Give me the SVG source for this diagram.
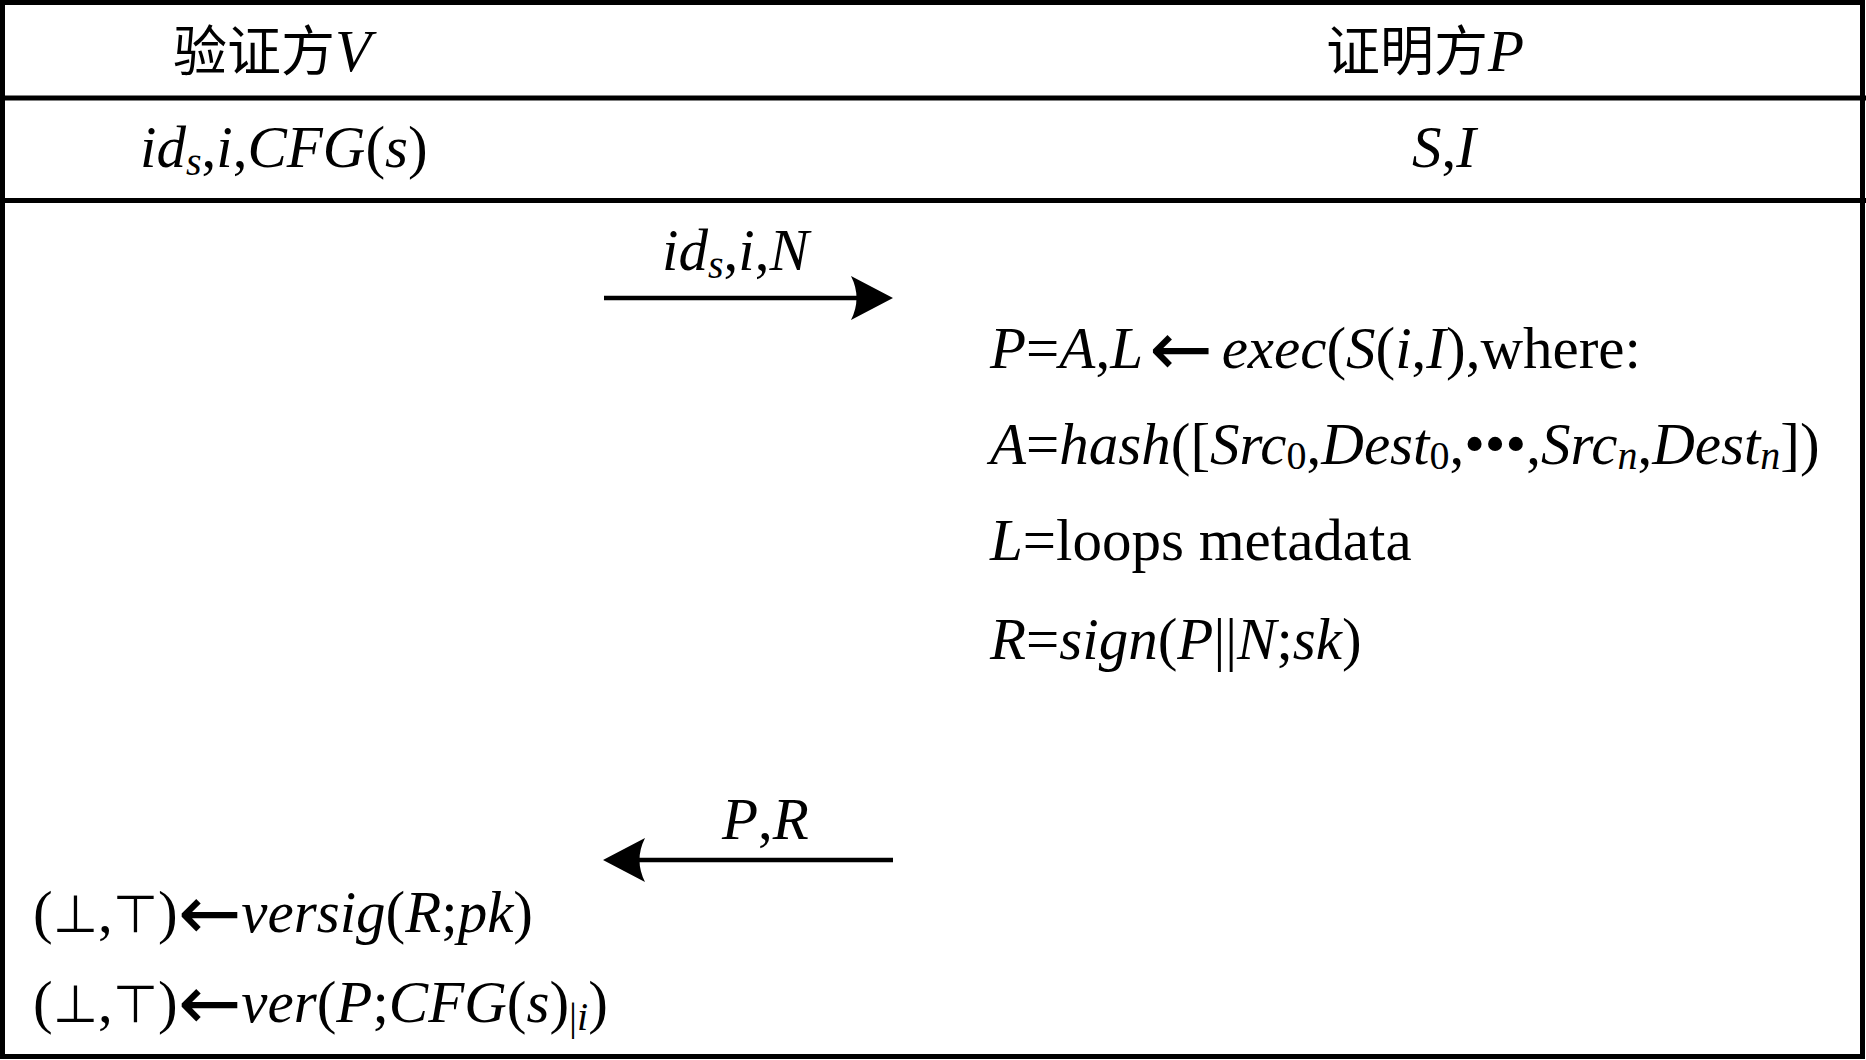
<svg xmlns="http://www.w3.org/2000/svg" width="1866" height="1060" viewBox="0 0 1866 1060">
<style>
text{font-family:"Liberation Serif","Times New Roman","Noto Sans CJK SC",serif;font-size:59px;fill:#000}
.i{font-style:italic}
.sb{font-size:40px}
.cjk{font-family:"Liberation Serif","Noto Sans CJK SC",serif;font-size:54px}
.ar{font-family:"DejaVu Sans",sans-serif;font-size:76px}
.tb{font-family:"DejaVu Sans",sans-serif;font-size:52px;font-weight:normal}
.frame{fill:none;stroke:#000;stroke-width:5}
.conn{stroke:#000;stroke-width:4.5;fill:none}
</style>
<defs>
<marker id="ah" markerUnits="userSpaceOnUse" viewBox="0 0 42 44" refX="19" refY="22" markerWidth="42" markerHeight="44" orient="auto">
<path d="M42,22 L0,0 Q11,22 0,44 Z" fill="#000"/>
</marker>
</defs>
<rect fill="#fff" x="0" y="0" width="1866" height="1060"/>
<g id="table">
<rect class="frame" x="2.5" y="2.5" width="1860" height="1054"/>
<line class="frame" x1="0" y1="98" x2="1866" y2="98"/>
<line class="frame" x1="0" y1="200.5" x2="1866" y2="200.5"/>
</g>
<g id="header-verifier"><text class="cjk" x="173" y="71">验证方<tspan class="i" font-size="59">V</tspan></text></g>
<g id="header-prover"><text class="cjk" x="1326" y="71">证明方<tspan class="i" font-size="59">P</tspan></text></g>
<g id="verifier-input"><text x="140" y="167"><tspan class="i">id</tspan><tspan class="i sb" dy="8">s</tspan><tspan dy="-8">,</tspan><tspan class="i">i</tspan>,<tspan class="i">CFG</tspan>(<tspan class="i">s</tspan>)</text></g>
<g id="prover-input"><text x="1412" y="167"><tspan class="i">S</tspan>,<tspan class="i">I</tspan></text></g>
<g id="prover-compute">
<text x="990" y="368"><tspan class="i">P</tspan>=<tspan class="i">A</tspan>,<tspan class="i">L</tspan><tspan class="ar" dx="6" dy="7">←</tspan><tspan class="i" dx="9" dy="-7">exec</tspan>(<tspan class="i">S</tspan>(<tspan class="i">i</tspan>,<tspan class="i">I</tspan>),where:</text>
<text x="990" y="464"><tspan class="i">A</tspan>=<tspan class="i">hash</tspan>([<tspan class="i">Src</tspan><tspan class="sb" dy="5">0</tspan><tspan dy="-5">,</tspan><tspan class="i">Dest</tspan><tspan class="sb" dy="5">0</tspan><tspan dy="-5">,•••,</tspan><tspan class="i">Src</tspan><tspan class="i sb" dy="5">n</tspan><tspan dy="-5">,</tspan><tspan class="i">Dest</tspan><tspan class="i sb" dy="5">n</tspan><tspan dy="-5">])</tspan></text>
<text x="990" y="560"><tspan class="i">L</tspan>=loops metadata</text>
<text x="990" y="659"><tspan class="i">R</tspan>=<tspan class="i">sign</tspan>(<tspan class="i">P</tspan>||<tspan class="i">N</tspan>;<tspan class="i">sk</tspan>)</text>
</g>
<g id="verifier-check">
<text x="33" y="932">(<tspan class="tb">⊥</tspan>,<tspan class="tb">⊤</tspan>)<tspan class="ar" dy="7">←</tspan><tspan class="i" dy="-7">versig</tspan>(<tspan class="i">R</tspan>;<tspan class="i">pk</tspan>)</text>
<text x="33" y="1022">(<tspan class="tb">⊥</tspan>,<tspan class="tb">⊤</tspan>)<tspan class="ar" dy="7">←</tspan><tspan class="i" dy="-7">ver</tspan>(<tspan class="i">P</tspan>;<tspan class="i">CFG</tspan>(<tspan class="i">s</tspan>)<tspan class="sb" dy="8">|</tspan><tspan class="i sb">i</tspan><tspan dy="-8">)</tspan></text>
</g>
<g id="connectors">
<line class="conn" x1="604" y1="298" x2="870" y2="298" marker-end="url(#ah)"/>
<text x="662" y="270"><tspan class="i">id</tspan><tspan class="i sb" dy="8">s</tspan><tspan dy="-8">,</tspan><tspan class="i">i</tspan>,<tspan class="i">N</tspan></text>
<line class="conn" x1="893" y1="860" x2="626" y2="860" marker-end="url(#ah)"/>
<text x="722" y="839"><tspan class="i">P</tspan>,<tspan class="i">R</tspan></text>
</g>
</svg>
